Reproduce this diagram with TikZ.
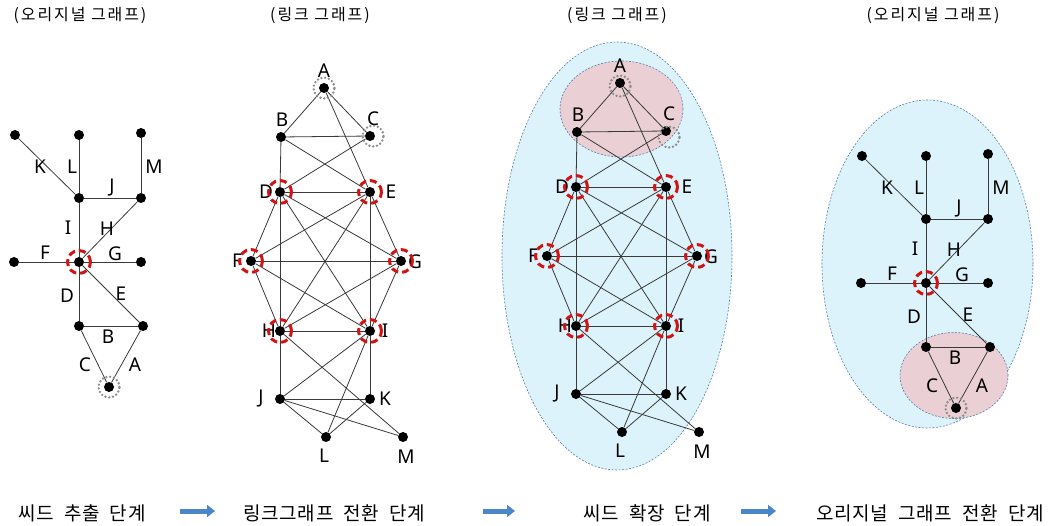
\documentclass[tikz,border=0pt]{standalone}
\usepackage{fontspec}
\usetikzlibrary{arrows.meta}
\newfontfamily\krtop[LetterSpace=12]{Noto Sans CJK KR}
\newfontfamily\krbot[LetterSpace=4]{Noto Sans CJK KR}
\newfontfamily\latfont{Noto Sans}
\newcommand\wgap{\hspace{5pt}}

\definecolor{edgec}{HTML}{3A3A3A}
\definecolor{seedred}{HTML}{D01414}
\definecolor{candgray}{HTML}{8C8C8C}
\definecolor{blueregion}{HTML}{DDF3FB}
\definecolor{pinkregion}{HTML}{EACFD4}
\definecolor{regionline}{HTML}{5A7EA8}
\definecolor{stageblue}{HTML}{4A86C8}

\tikzset{
  vtx/.style={circle, fill=black, inner sep=0pt, minimum size=10pt},
  lnk/.style={draw=edgec, line width=0.8pt},
  lbl/.style={font=\latfont\fontsize{19}{19}\selectfont, inner sep=0pt},
  seedring/.style={draw=seedred, line width=3pt, dash pattern=on 7pt off 4pt},
  candring/.style={draw=candgray, line width=2.6pt, dash pattern=on 0pt off 3.8pt, line cap=round},
  region/.style={draw=regionline, line width=0.6pt, dash pattern=on 2pt off 1.5pt},
  toptitle/.style={font=\krtop\fontsize{16}{16}\selectfont, inner sep=0pt},
  stagetitle/.style={font=\krbot\fontsize{19}{19}\selectfont, inner sep=0pt},
  stagearrow/.style={draw=stageblue, line width=5pt, -{Triangle[length=8pt,width=12pt]}},
}

% original graph: vertices are drawn as dots, edges carry the letters
\newcommand\origgraph[1]{%
  \node[vtx] (#1ka) at (15,135) {};
  \node[vtx] (#1la) at (79,135) {};
  \node[vtx] (#1ma) at (141,133) {};
  \node[vtx] (#1jl) at (79,198) {};
  \node[vtx] (#1jm) at (141,198) {};
  \node[vtx] (#1ctr) at (79,262) {};
  \node[vtx] (#1fa) at (14,262) {};
  \node[vtx] (#1ga) at (141,262) {};
  \node[vtx] (#1db) at (79,326) {};
  \node[vtx] (#1rt) at (143,326) {};
  \node[vtx] (#1bt) at (109,387) {};
  \foreach \u/\v in {ka/jl, la/jl, ma/jm, jl/jm, jl/ctr, ctr/jm, fa/ctr, ctr/ga,
                     ctr/db, ctr/rt, db/rt, db/bt, rt/bt}
    \draw[lnk] (#1\u) -- (#1\v);
  \node[lbl] (#1lK) at (40,167) {K};
  \node[lbl] (#1lL) at (72,167) {L};
  \node[lbl] (#1lM) at (154,167) {M};
  \node[lbl] (#1lJ) at (112,188) {J};
  \node[lbl] (#1lI) at (68,228) {I};
  \node[lbl] (#1lH) at (107,229) {H};
  \node[lbl] (#1lF) at (45,253) {F};
  \node[lbl] (#1lG) at (115,254) {G};
  \node[lbl] (#1lD) at (67,296) {D};
  \node[lbl] (#1lE) at (121,294) {E};
  \node[lbl] (#1lB) at (108,337) {B};
  \node[lbl] (#1lC) at (85,365) {C};
  \node[lbl] (#1lA) at (135,365) {A};
  \draw[seedring] (#1ctr) circle (11.5pt);
  \draw[candring] (#1bt) circle (10.5pt);
}

% link graph: one dot per edge of the original graph
\newcommand\linkgraph[1]{%
  \node[vtx] (#1A) at (324,88) {};
  \node[vtx] (#1B) at (281,137) {};
  \node[vtx] (#1C) at (370,136) {};
  \node[vtx] (#1D) at (280,192) {};
  \node[vtx] (#1E) at (370,192) {};
  \node[vtx] (#1F) at (251,261) {};
  \node[vtx] (#1G) at (401,261) {};
  \node[vtx] (#1H) at (280,331) {};
  \node[vtx] (#1I) at (370,331) {};
  \node[vtx] (#1J) at (280,399) {};
  \node[vtx] (#1K) at (370,399) {};
  \node[vtx] (#1L) at (326,437) {};
  \node[vtx] (#1M) at (403,437) {};
  \foreach \u/\v in {A/B, A/C, A/E, B/C, B/D, B/E, C/D,
                     D/E, D/F, D/G, D/H, D/I, E/F, E/G, E/H, E/I,
                     F/G, F/H, F/I, G/H, G/I, H/I,
                     H/J, H/M, I/J, I/K, I/L, J/K, J/L, J/M, K/L}
    \draw[lnk] (#1\u) -- (#1\v);
  \node[lbl] (#1tA) at (324,71) {A};
  \node[lbl] (#1tB) at (282,120) {B};
  \node[lbl] (#1tC) at (373,119) {C};
  \node[lbl] (#1tD) at (266,192) {D};
  \node[lbl] (#1tE) at (391,192) {E};
  \node[lbl] (#1tF) at (237,261) {F};
  \node[lbl] (#1tG) at (415,262) {G};
  \node[lbl] (#1tH) at (269,331) {H};
  \node[lbl] (#1tI) at (385,331) {I};
  \node[lbl] (#1tJ) at (261,399) {J};
  \node[lbl] (#1tK) at (385,399) {K};
  \node[lbl] (#1tL) at (324,456) {L};
  \node[lbl] (#1tM) at (406,457) {M};
  \foreach \s in {D,E,F,G,H,I}
    \draw[seedring] (#1\s) circle (11.5pt);
}

\begin{document}
\begin{tikzpicture}[x=1pt, y=-1pt]
  \useasboundingbox (0,0) rectangle (1059,526);
  \fill[white] (0,0) rectangle (1059,526);

  % panel titles
  \node[toptitle] (t1) at (80,15) {(오리지널 그래프)};
  \node[toptitle] (t2) at (320,15) {(링크 그래프)};
  \node[toptitle] (t3) at (617,15) {(링크 그래프)};
  \node[toptitle] (t4) at (933,15) {(오리지널 그래프)};

  % panel 1: seed extraction on the original graph
  \origgraph{p}

  % panel 2: link graph
  \linkgraph{q}
  \draw[candring] (qA) circle (10.5pt);
  \draw[candring] ([xshift=3pt]qC.center) circle (10.5pt);

  % panel 3: seed expansion on the link graph
  \draw[region, fill=blueregion] (617,256) ellipse [x radius=115pt, y radius=214pt];
  \draw[region, fill=pinkregion] (621.5,109) ellipse [x radius=61.5pt, y radius=48pt];
  \begin{scope}[shift={(296,-5)}]
    \linkgraph{r}
  \end{scope}
  \draw[candring] ([yshift=-3pt]rA.center) circle (10.5pt);
  \draw[candring] ([xshift=3pt,yshift=-6pt]rC.center) circle (10.5pt);

  % panel 4: expanded seed back on the original graph
  \draw[region, fill=blueregion] (927.5,264) ellipse [x radius=105.5pt, y radius=164pt];
  \draw[region, fill=pinkregion] (954,375.5) ellipse [x radius=54pt, y radius=43pt];
  \begin{scope}[shift={(847,21)}]
    \origgraph{s}
  \end{scope}

  % stage captions
  \node[stagetitle] (s1) at (82,513) {씨드 \wgap 추출 \wgap 단계};
  \node[stagetitle] (s2) at (334,513) {링크그래프 \wgap 전환 \wgap 단계};
  \node[stagetitle] (s3) at (647,513) {씨드 \wgap 확장 \wgap 단계};
  \node[stagetitle] (s4) at (930,513) {오리지널 \wgap 그래프 \wgap 전환 \wgap 단계};

  \coordinate (a1s) at (180,511); \coordinate (a1e) at (215,511);
  \coordinate (a2s) at (483,511); \coordinate (a2e) at (515,511);
  \coordinate (a3s) at (741,511); \coordinate (a3e) at (776,511);
  \draw[stagearrow] (a1s) -- (a1e);
  \draw[stagearrow] (a2s) -- (a2e);
  \draw[stagearrow] (a3s) -- (a3e);
\end{tikzpicture}
\end{document}
